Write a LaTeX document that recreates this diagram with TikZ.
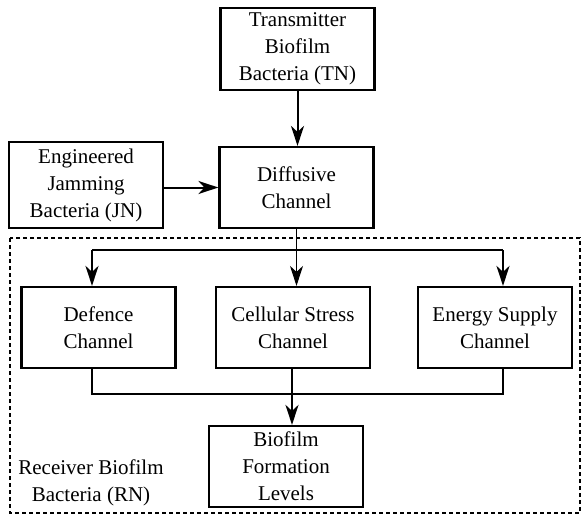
\documentclass[tikz,border=0pt]{standalone}
\usepackage{fontspec}
\newfontfamily\diagfont{Liberation Serif}
\usetikzlibrary{arrows.meta}
\tikzset{
  label text/.style={font=\diagfont\fontsize{21}{27}\selectfont},
  block/.style={draw, line width=2.2pt, minimum width=154pt, minimum height=81pt,
    align=center, inner sep=2pt, label text},
  link/.style={line width=2pt, -{Stealth[length=20pt,width=13pt,inset=6pt]}},
  thinlink/.style={line width=1pt, -{Stealth[length=20pt,width=13pt,inset=6pt]}},
  wire/.style={line width=2pt},
  frame/.style={line width=1.2pt, dash pattern=on 4pt off 3pt},
}
\begin{document}
\begin{tikzpicture}[x=1pt,y=-1pt]
  \useasboundingbox (0,0) rectangle (583,517);
  % transmitter, jammer and channel
  \node[block, minimum height=82pt] (tn) at (297.5,49) {Transmitter\\Biofilm\\Bacteria (TN)};
  \node[block] (dc) at (296.5,187.5) {Diffusive\\Channel};
  \node[block, minimum height=86pt] (jn) at (86,185) {Engineered\\Jamming\\Bacteria (JN)};
  \draw[link] (tn.south) -- (tn.south |- dc.north);
  \draw[link] (jn.east |- dc.west) -- (dc.west);
  % receiver
  \draw[frame] (10,238) rectangle (580,513);
  \node[block] (def) at (98.5,327.5) {Defence\\Channel};
  \node[block] (cs) at (293,327.5) {Cellular Stress\\Channel};
  \node[block] (es) at (495,327.5) {Energy Supply\\Channel};
  \node[block] (bf) at (286,466.5) {Biofilm\\Formation\\Levels};
  \node[align=center, label text] (rn) at (91,483) {Receiver Biofilm\\Bacteria (RN)};
  % split
  \coordinate (splitL) at (92,250);
  \coordinate (splitR) at (503,250);
  \draw[thinlink] (dc.south) -- (dc.south |- cs.north);
  \draw[wire] (splitL) -- (splitR);
  \draw[link] (splitL) -- (splitL |- def.north);
  \draw[link] (splitR) -- (splitR |- es.north);
  % join
  \coordinate (joinL) at (92,394);
  \coordinate (joinM) at (292,394);
  \coordinate (joinR) at (503,394);
  \draw[wire] (joinL |- def.south) -- (joinL) -- (joinR) -- (joinR |- es.south);
  \draw[wire] (joinM |- cs.south) -- (joinM);
  \draw[link] (joinM) -- (joinM |- bf.north);
\end{tikzpicture}
\end{document}
